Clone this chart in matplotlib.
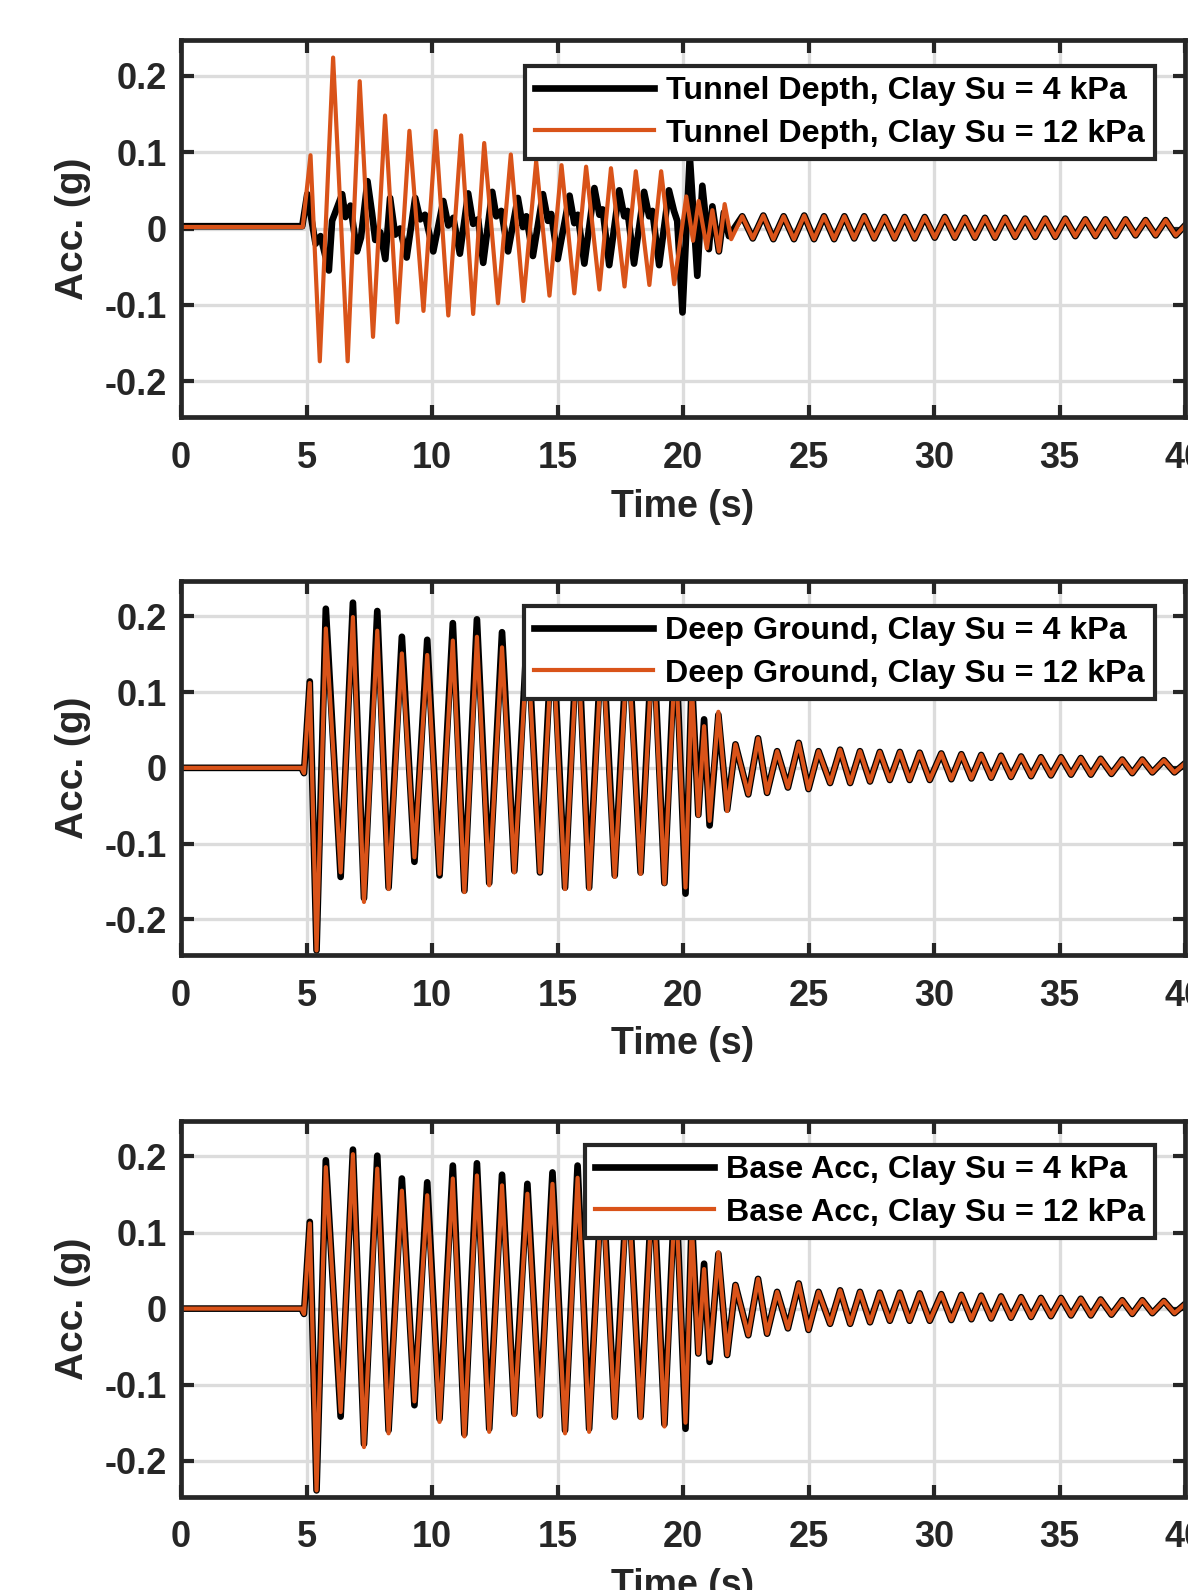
import matplotlib
matplotlib.use("Agg")
import matplotlib.pyplot as plt

# ---- values (time in s, acceleration in g) ----
# tunnel depth, Su = 4 kPa (black)
top_t_4 = [0, 4.83, 5.03, 5.36, 5.56, 5.89, 6.02, 6.42, 6.55, 6.75, 7.01, 7.17,
           7.43, 7.61, 7.74, 7.94, 8.14, 8.33, 8.53, 8.73, 8.99, 9.33, 9.53, 9.72,
           10.05, 10.45, 10.65, 10.85, 11.11, 11.44, 11.64, 11.84, 12.04, 12.40,
           12.56, 12.76, 13.03, 13.42, 13.62, 13.76, 14.02, 14.42, 14.62, 14.75,
           15.01, 15.48, 15.67, 15.81, 16.07, 16.47, 16.67, 16.80, 17.06, 17.46,
           17.66, 17.79, 18.05, 18.45, 18.65, 18.78, 19.05, 19.44, 19.64, 19.77,
           19.98, 20.27, 20.57, 20.77, 21.03, 21.17, 21.43, 21.63, 21.83]
top_a_4 = [0.003, 0.003, 0.045, -0.020, -0.010, -0.055, 0.010, 0.045, 0.015, 0.030, -0.030, -0.012,
           0.062, 0.020, -0.015, -0.005, -0.040, 0.040, -0.008, 0.000, -0.038, 0.040, 0.012, 0.018,
           -0.030, 0.036, 0.004, 0.014, -0.033, 0.046, 0.006, 0.012, -0.045, 0.048,
           0.016, 0.023, -0.030, 0.040, 0.002, 0.016, -0.036, 0.045, 0.010, 0.019,
           -0.040, 0.043, 0.007, 0.018, -0.046, 0.053, 0.018, 0.025, -0.048, 0.050,
           0.016, 0.023, -0.046, 0.048, 0.016, 0.023, -0.048, 0.050, 0.023, 0.010,
           -0.110, 0.095, -0.062, 0.056, -0.027, 0.029, -0.030, 0.021, -0.010]

# tunnel depth, Su = 12 kPa (orange)
top_t_12 = [0, 4.85, 5.16, 5.53, 6.06, 6.64, 7.12, 7.65, 8.13, 8.62, 9.10, 9.66,
            10.15, 10.65, 11.16, 11.64, 12.08, 12.63, 13.14, 13.64, 14.15, 14.68,
            15.16, 15.67, 16.14, 16.67, 17.13, 17.67, 18.12, 18.66, 19.13, 19.65,
            20.13, 20.40, 20.62, 20.95, 21.17, 21.43, 21.66, 21.92]
top_a_12 = [0.002, 0.002, 0.096, -0.174, 0.224, -0.174, 0.193, -0.142, 0.148, -0.123, 0.128, -0.108,
            0.128, -0.114, 0.122, -0.112, 0.112, -0.098, 0.097, -0.095, 0.088, -0.088,
            0.083, -0.085, 0.081, -0.080, 0.079, -0.076, 0.075, -0.074, 0.075, -0.073,
            0.042, -0.016, 0.036, -0.026, 0.024, -0.030, 0.032, -0.014]

# small free vibration at tunnel depth after shaking (both cases overlap)
top_tail_t = [22.36, 22.78, 23.20, 23.60, 24.01, 24.42, 24.83, 25.22, 25.62, 26.02,
              26.43, 26.82, 27.22, 27.62, 28.03, 28.43, 28.83, 29.23, 29.63, 30.03,
              30.43, 30.83, 31.23, 31.63, 32.03, 32.43, 32.83, 33.23, 33.63, 34.03,
              34.43, 34.83, 35.23, 35.63, 36.03, 36.43, 36.83, 37.23, 37.63, 38.03,
              38.43, 38.83, 39.23, 39.63, 40.0]
top_tail_a = [0.016, -0.013, 0.017, -0.014, 0.016, -0.014, 0.017, -0.014, 0.016, -0.014,
              0.016, -0.013, 0.016, -0.013, 0.015, -0.013, 0.015, -0.013, 0.015, -0.012,
              0.015, -0.012, 0.014, -0.012, 0.014, -0.012, 0.014, -0.011, 0.013, -0.011,
              0.013, -0.011, 0.013, -0.010, 0.012, -0.010, 0.012, -0.010, 0.012, -0.009,
              0.011, -0.009, 0.011, -0.009, 0.004]

# deep ground and base: common turning-point times during shaking
ground_t = [0, 4.80, 4.90, 5.13, 5.40, 5.77, 6.36, 6.85, 7.29, 7.82, 8.27, 8.80,
            9.30, 9.81, 10.30, 10.83, 11.29, 11.79, 12.28, 12.79, 13.28, 13.80,
            14.30, 14.80, 15.30, 15.80, 16.26, 16.78, 17.28, 17.80, 18.31, 18.80,
            19.26, 19.70, 20.10, 20.35, 20.61, 20.84, 21.06, 21.41, 21.76, 22.09]
deep_a_4 = [0, 0, -0.007, 0.114, -0.241, 0.210, -0.144, 0.218, -0.172, 0.207, -0.158, 0.173,
            -0.124, 0.169, -0.142, 0.191, -0.162, 0.196, -0.152, 0.179, -0.136, 0.185,
            -0.138, 0.190, -0.158, 0.190, -0.158, 0.185, -0.142, 0.185, -0.138, 0.185,
            -0.152, 0.175, -0.166, 0.120, -0.062, 0.064, -0.076, 0.070, -0.055, 0.031]
deep_a_12 = [0, 0, -0.007, 0.112, -0.241, 0.184, -0.138, 0.199, -0.177, 0.181, -0.160, 0.151,
             -0.118, 0.149, -0.140, 0.168, -0.164, 0.173, -0.155, 0.159, -0.138, 0.165,
             -0.138, 0.170, -0.160, 0.170, -0.160, 0.165, -0.144, 0.165, -0.140, 0.165,
             -0.153, 0.155, -0.158, 0.110, -0.063, 0.055, -0.070, 0.074, -0.057, 0.031]
base_a_4 = [0, 0, -0.007, 0.114, -0.239, 0.195, -0.142, 0.209, -0.178, 0.201, -0.160, 0.171,
            -0.127, 0.166, -0.145, 0.188, -0.165, 0.191, -0.158, 0.176, -0.138, 0.164,
            -0.140, 0.179, -0.160, 0.188, -0.158, 0.180, -0.142, 0.180, -0.142, 0.180,
            -0.152, 0.175, -0.158, 0.120, -0.059, 0.059, -0.070, 0.072, -0.061, 0.031]
base_a_12 = [0, 0, -0.007, 0.112, -0.239, 0.186, -0.136, 0.203, -0.182, 0.184, -0.164, 0.155,
             -0.122, 0.149, -0.149, 0.171, -0.168, 0.175, -0.162, 0.162, -0.140, 0.151,
             -0.142, 0.164, -0.164, 0.172, -0.162, 0.165, -0.144, 0.165, -0.144, 0.165,
             -0.155, 0.160, -0.150, 0.110, -0.059, 0.052, -0.066, 0.074, -0.061, 0.031]

# free vibration of deep ground / base after shaking (both cases overlap)
ground_tail_t = [22.60, 22.99, 23.35, 23.75, 24.18, 24.61, 25.00, 25.40, 25.86, 26.26,
                 26.66, 27.05, 27.45, 27.84, 28.24, 28.64, 29.03, 29.43, 29.83, 30.29,
                 30.69, 31.09, 31.49, 31.88, 32.28, 32.67, 33.07, 33.47, 33.87, 34.26,
                 34.66, 35.06, 35.46, 35.85, 36.25, 36.64, 37.07, 37.50, 37.90, 38.30,
                 38.70, 39.16, 39.58, 40.0]
ground_tail_a = [-0.035, 0.039, -0.033, 0.022, -0.026, 0.033, -0.028, 0.022, -0.020, 0.024,
                 -0.020, 0.022, -0.018, 0.021, -0.016, 0.021, -0.016, 0.020, -0.016, 0.019,
                 -0.015, 0.018, -0.014, 0.017, -0.013, 0.016, -0.012, 0.015, -0.011, 0.014,
                 -0.010, 0.014, -0.009, 0.013, -0.009, 0.012, -0.008, 0.011, -0.007, 0.011,
                 -0.006, 0.010, -0.006, 0.006]

legend_labels = [
    ("Tunnel Depth, Clay Su = 4 kPa", "Tunnel Depth, Clay Su = 12 kPa"),
    ("Deep Ground, Clay Su = 4 kPa", "Deep Ground, Clay Su = 12 kPa"),
    ("Base Acc, Clay Su = 4 kPa", "Base Acc, Clay Su = 12 kPa"),
]
x_ticks = [0, 5, 10, 15, 20, 25, 30, 35, 40]
y_ticks = [-0.2, -0.1, 0, 0.1, 0.2]
y_tick_labels = ["-0.2", "-0.1", "0", "0.1", "0.2"]

ORANGE = "#D95319"
DARK = "#262626"

plt.rcParams["font.family"] = ["Liberation Sans", "DejaVu Sans"]
plt.rcParams["font.weight"] = "bold"

W, H = 1188, 1590
fig = plt.figure(figsize=(W / 100, H / 100), dpi=100)

# axes boxes in pixels: (top, bottom); left/right shared
x_left, x_right = 181, 1185
boxes = [(40, 417), (580.7, 955), (1120.7, 1496.5)]
legend_top = [66, 606, 1145]
legend_right = 1155

series = [
    (top_t_4 + top_tail_t, top_a_4 + top_tail_a, top_t_12 + top_tail_t, top_a_12 + top_tail_a),
    (ground_t + ground_tail_t, deep_a_4 + ground_tail_a, ground_t + ground_tail_t, deep_a_12 + ground_tail_a),
    (ground_t + ground_tail_t, base_a_4 + ground_tail_a, ground_t + ground_tail_t, base_a_12 + ground_tail_a),
]

for i, (top, bot) in enumerate(boxes):
    ax = fig.add_axes([x_left / W, 1 - bot / H, (x_right - x_left) / W, (bot - top) / H])
    t4, a4, t12, a12 = series[i]
    ax.plot(t4, a4, color="black", lw=4.8, solid_joinstyle="round", label=legend_labels[i][0])
    ax.plot(t12, a12, color=ORANGE, lw=3.0, solid_joinstyle="round", label=legend_labels[i][1])

    ax.set_xlim(0, 40)
    ax.set_ylim(-0.247, 0.247)
    ax.set_xticks(x_ticks)
    ax.set_yticks(y_ticks)
    ax.set_yticklabels(y_tick_labels)
    ax.grid(True, color="#dcdcdc", lw=2.4)
    ax.tick_params(direction="in", top=True, right=True, length=9, width=3,
                   color=DARK, labelsize=26, labelcolor=DARK)
    ax.tick_params(axis="x", pad=17)
    ax.tick_params(axis="y", pad=10)
    for s in ax.spines.values():
        s.set_linewidth(3.4)
        s.set_color(DARK)

    ax.set_xlabel("Time (s)", fontsize=27, fontweight="bold", color=DARK)
    ax.set_ylabel("Acc. (g)", fontsize=28, fontweight="bold", color=DARK)
    h = bot - top
    ax.xaxis.set_label_coords(0.5, -(489 - 417) / 377)
    ax.yaxis.set_label_coords((91 - x_left) / (x_right - x_left), 0.5)

    leg = ax.legend(loc="upper right",
                    bbox_to_anchor=((legend_right - x_left) / (x_right - x_left), 1 - (legend_top[i] - top) / h),
                    borderaxespad=0, prop={"size": 23.2, "weight": "bold"},
                    handlelength=3.7, handletextpad=0.38, labelspacing=0.39, borderpad=0.31,
                    fancybox=False, framealpha=1, edgecolor=DARK)
    leg.get_frame().set_linewidth(3)
    for txt in leg.get_texts():
        txt.set_color("black")

fig.savefig("out.png", dpi=100)
